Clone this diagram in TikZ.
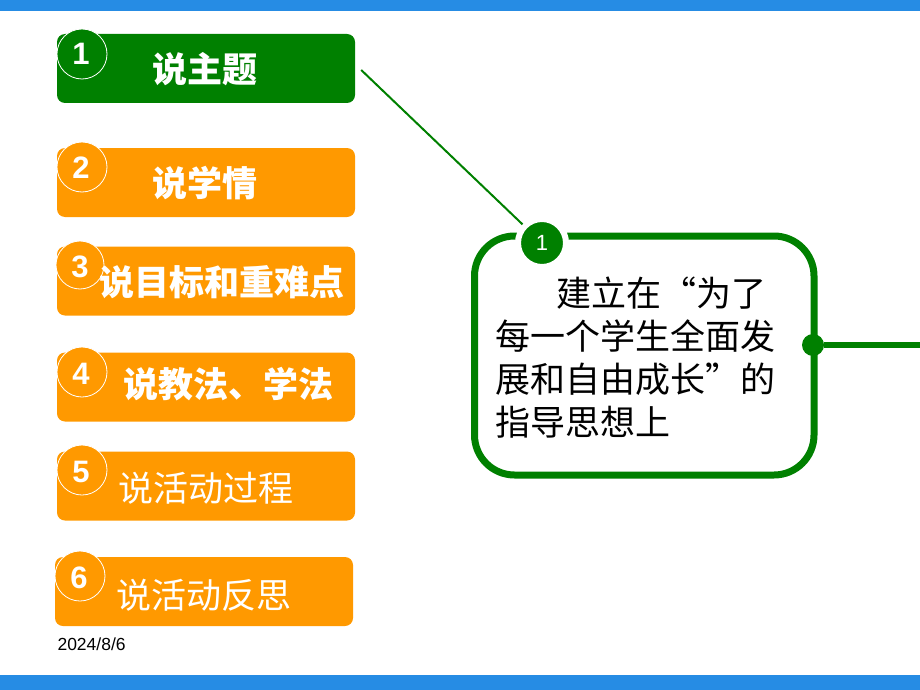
\documentclass[tikz,border=0pt]{standalone}
\usepackage{fontspec}
\usepackage{xcolor}
\setmainfont{Liberation Sans}
\newfontfamily\cjk{Noto Sans CJK SC}
\definecolor{topicgreen}{RGB}{0,128,0}
\definecolor{itemorange}{RGB}{255,153,0}
\definecolor{barblue}{RGB}{38,140,228}

\begin{document}
\begin{tikzpicture}[x=1pt, y=-1pt,
 itembox/.style={rounded corners=8pt, minimum width=298pt, minimum height=69pt, inner sep=0pt},
 numcirc/.style={circle, draw=white, line width=0.8pt, minimum size=50pt, inner sep=0pt},
 numtext/.style={text=white, font=\bfseries\fontsize{31}{31}\selectfont},
 itemtext/.style={text=white, font=\cjk\bfseries\fontsize{35}{35}\selectfont},
 itemthin/.style={text=white, font=\cjk\fontsize{35}{35}\selectfont}] % pixel units, y downwards

\useasboundingbox (0,0) rectangle (920,690);
\fill[barblue] (0,0) rectangle (920,11);
\fill[barblue] (0,675) rectangle (920,690);

% left column of items
\node[itembox, fill=topicgreen] (box1) at (206,68.5) {};
\node[itembox, fill=itemorange] (box2) at (206,182.5) {};
\node[itembox, fill=itemorange] (box3) at (206,281) {};
\node[itembox, fill=itemorange] (box4) at (206,387) {};
\node[itembox, fill=itemorange] (box5) at (206,486) {};
\node[itembox, fill=itemorange] (box6) at (204,591.5) {};

\node[numcirc, fill=topicgreen] (circ1) at (82,54) {};
\node[numcirc, fill=itemorange] (circ2) at (82,167) {};
\node[numcirc, fill=itemorange, minimum size=48pt] (circ3) at (80,265) {};
\node[numcirc, fill=itemorange] (circ4) at (82,372) {};
\node[numcirc, fill=itemorange] (circ5) at (82,470) {};
\node[numcirc, fill=itemorange] (circ6) at (80,576) {};

\node[numtext] (n1) at (81,53.5) {1};
\node[numtext] (n2) at (81,168) {2};
\node[numtext] (n3) at (80,267) {3};
\node[numtext] (n4) at (81,374) {4};
\node[numtext] (n5) at (81,472) {5};
\node[numtext] (n6) at (79,578) {6};

\node[itemtext] (t1) at (205,69) {说主题};
\node[itemtext] (t2) at (205,183) {说学情};
\node[itemtext] (t3) at (222,282) {说目标和重难点};
\node[itemtext] (t4) at (228,384) {说教法、学法};
\node[itemthin] (t5) at (206,488) {说活动过程};
\node[itemthin] (t6) at (204,595) {说活动反思};

\node[anchor=west, font=\fontsize{17.5}{17.5}\selectfont] (date) at (54,644) {2024/8/6};

% detail box on the right
\draw[topicgreen, line width=7pt, rounded corners=40pt] (474.5,236) rectangle (814,475);
\node[circle, fill=topicgreen, draw=white, line width=6pt, minimum size=48pt, inner sep=0pt,
 text=white, font=\fontsize{22}{22}\selectfont] (num0) at (542,243) {1};
\draw[topicgreen, line width=2pt] ([xshift=6pt,yshift=-1.5pt]box1.east) -- (num0);

\node[anchor=north west, align=left, inner sep=0pt,
 font=\cjk\fontsize{35}{43}\selectfont] (desc) at (495,277)
 {\hspace*{61pt}建立在“为了\\每一个学生全面发\\展和自由成长”的\\指导思想上};

\node[circle, fill=topicgreen, minimum size=22pt, inner sep=0pt] (dot) at (813,345) {};
\coordinate (edge) at (920,345);
\draw[topicgreen, line width=5.5pt] (dot) -- (edge);
\end{tikzpicture}
\end{document}
